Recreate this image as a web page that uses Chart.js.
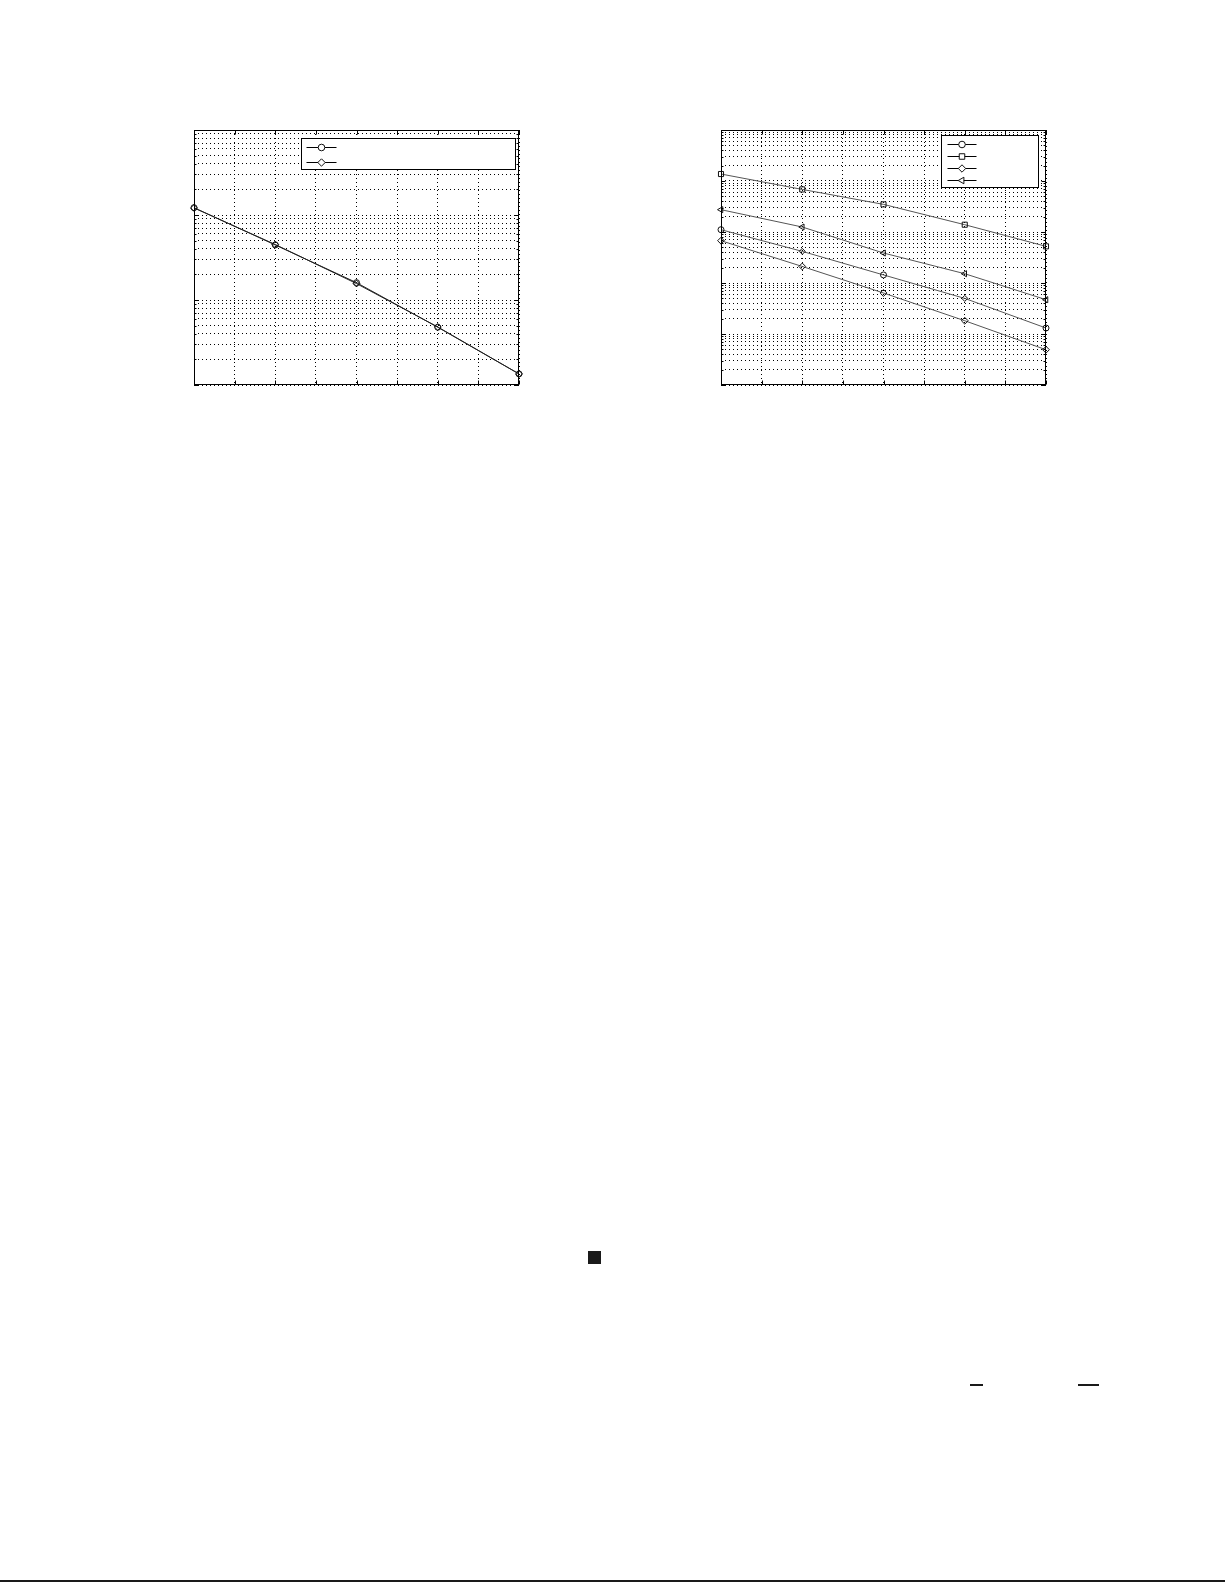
<!DOCTYPE html>
<html>
<head>
<meta charset="utf-8">
<script src="https://cdn.jsdelivr.net/npm/chart.js@4.4.1/dist/chart.umd.min.js"></script>
<style>
  html, body { margin: 0; padding: 0; background: #fff; }
  body { width: 1225px; height: 1585px; position: relative; overflow: hidden; }
  canvas { position: absolute; }
  #leftChart { left: 184px; top: 120px; }
  #rightChart { left: 711px; top: 120px; }
  .mark { position: absolute; background: #1a1a1a; }
</style>
</head>
<body>
<canvas id="leftChart" width="345" height="275"></canvas>
<canvas id="rightChart" width="345" height="275"></canvas>
<div class="mark" style="left:588px;top:1251px;width:13px;height:13px;"></div>
<div class="mark" style="left:970px;top:1384px;width:13px;height:2px;"></div>
<div class="mark" style="left:1078px;top:1384px;width:21px;height:2px;"></div>
<div class="mark" style="left:0;top:1580px;width:1225px;height:2px;"></div>
<script>
// x positions of the samples and of the vertical grid lines
const xValues = [1, 2, 3, 4, 5];
const xGrid = [1, 1.5, 2, 2.5, 3, 3.5, 4, 4.5, 5];

// left panel (log y, 1e-3 .. 1)
const leftDecades = [1e-3, 1e-2, 1e-1, 1];
const leftCircle = [0.122, 0.0444, 0.0160, 0.00478, 0.00135];
const leftDiamond = [0.121, 0.0450, 0.0156, 0.00482, 0.00135];

// right panel (log y, 1e-5 .. 1)
const rightDecades = [1e-5, 1e-4, 1e-3, 1e-2, 1e-1, 1];
const rightCircle = [0.0111, 0.00417, 0.00144, 0.000499, 0.000131];
const rightSquare = [0.137, 0.0684, 0.0348, 0.0139, 0.00523];
const rightDiamond = [0.00675, 0.00211, 0.000637, 0.000182, 0.0000492];
const rightTriangle = [0.0274, 0.01253, 0.00387, 0.00152, 0.000471];

const minorSteps = [1, 2, 3, 4, 5, 6, 7, 8, 9];

function logGrid(decades) {
  const out = [];
  decades.forEach((d, i) => {
    if (i === decades.length - 1) { out.push(d); return; }
    minorSteps.forEach(m => out.push(+(m * d).toPrecision(6)));
  });
  return out;
}

function pts(ys) { return xValues.map((x, i) => ({ x: x, y: ys[i] })); }

function drawMarker(ctx, style, x, y, r, rot) {
  if (Chart.helpers && Chart.helpers.drawPoint) {
    Chart.helpers.drawPoint(ctx, { pointStyle: style, rotation: rot || 0, radius: r, borderWidth: 1 }, x, y);
    return;
  }
  ctx.beginPath();
  ctx.arc(x, y, r, 0, Math.PI * 2);
  ctx.stroke();
}

// black frame + MATLAB-like inward ticks
const framePlugin = {
  id: 'frame',
  afterDraw(chart) {
    const { ctx, chartArea: a, scales } = chart;
    const L = Math.round(a.left) + 0.5, R = Math.round(a.right) - 0.5;
    const T = Math.round(a.top) + 0.5, B = Math.round(a.bottom) - 0.5;
    ctx.save();
    ctx.strokeStyle = '#000';
    ctx.lineWidth = 1;
    ctx.setLineDash([]);
    ctx.strokeRect(L, T, R - L, B - T);
    ctx.beginPath();
    scales.x.ticks.forEach(t => {
      const px = Math.round(scales.x.getPixelForValue(t.value)) + 0.5;
      ctx.moveTo(px, B); ctx.lineTo(px, B - 4);
      ctx.moveTo(px, T); ctx.lineTo(px, T + 4);
    });
    scales.y.ticks.forEach(t => {
      const lg = Math.log10(t.value);
      const len = Math.abs(lg - Math.round(lg)) < 1e-6 ? 4 : 2;
      const py = Math.round(scales.y.getPixelForValue(t.value)) + 0.5;
      ctx.moveTo(L, py); ctx.lineTo(L + len, py);
      ctx.moveTo(R, py); ctx.lineTo(R - len, py);
    });
    ctx.stroke();
    ctx.restore();
  }
};

// boxed legend with line + marker samples (label text is blank in the source)
const boxLegendPlugin = {
  id: 'boxLegend',
  afterDraw(chart, args, opts) {
    const { ctx, chartArea: a } = chart;
    const x0 = Math.round(a.left + opts.left) + 0.5;
    const x1 = Math.round(a.right - opts.right) + 0.5;
    const y0 = Math.round(a.top + opts.top) + 0.5;
    const y1 = Math.round(a.top + opts.bottom) + 0.5;
    ctx.save();
    ctx.setLineDash([]);
    ctx.fillStyle = '#fff';
    ctx.fillRect(x0, y0, x1 - x0, y1 - y0);
    ctx.strokeStyle = '#000';
    ctx.lineWidth = 1;
    ctx.strokeRect(x0, y0, x1 - x0, y1 - y0);
    chart.data.datasets.forEach((ds, i) => {
      const y = Math.round(y0 + opts.firstRow + i * opts.rowStep) + 0.5;
      ctx.strokeStyle = '#000';
      ctx.beginPath();
      ctx.moveTo(x0 + opts.lineStart, y);
      ctx.lineTo(x0 + opts.lineEnd, y);
      ctx.stroke();
      ctx.strokeStyle = ds.pointBorderColor;
      ctx.fillStyle = '#fff';
      const style = Array.isArray(ds.pointStyle) ? ds.pointStyle[0] : ds.pointStyle;
      drawMarker(ctx, style, x0 + (opts.lineStart + opts.lineEnd) / 2, y, ds.pointRadius + 0.3, ds.pointRotation);
    });
    ctx.restore();
  }
};

function makeChart(id, datasets, decades, legendOpts) {
  const yGrid = logGrid(decades);
  return new Chart(document.getElementById(id), {
    type: 'line',
    data: { datasets: datasets },
    plugins: [framePlugin, boxLegendPlugin],
    options: {
      responsive: false,
      animation: false,
      devicePixelRatio: 1,
      layout: { padding: 10 },
      elements: { line: { tension: 0 } },
      plugins: {
        legend: { display: false },
        tooltip: { enabled: false },
        boxLegend: legendOpts
      },
      scales: {
        x: {
          type: 'linear',
          min: xGrid[0],
          max: xGrid[xGrid.length - 1],
          afterBuildTicks: s => { s.ticks = xGrid.map(v => ({ value: v })); },
          ticks: { display: false },
          grid: { color: '#000', lineWidth: 1, drawTicks: false },
          border: { display: false, dash: [1, 3] }
        },
        y: {
          type: 'logarithmic',
          min: decades[0],
          max: decades[decades.length - 1],
          afterBuildTicks: s => { s.ticks = yGrid.map(v => ({ value: v, major: false })); },
          ticks: { display: false },
          grid: { color: '#000', lineWidth: 1, drawTicks: false },
          border: { display: false, dash: [1, 3] }
        }
      }
    }
  });
}

function series(label, ys, style, r, lineColor, extra) {
  return Object.assign({
    label: label,
    data: pts(ys),
    borderColor: lineColor,
    borderWidth: 1,
    pointStyle: style,
    pointRadius: r,
    pointBorderColor: '#111',
    pointBackgroundColor: 'rgba(0,0,0,0)',
    pointBorderWidth: 1,
    clip: false
  }, extra || {});
}

makeChart('leftChart', [
  series('', leftCircle, 'circle', 3, '#222'),
  series('', leftDiamond, 'rectRot', 3.4, '#222')
], leftDecades, {
  left: 107, right: 4, top: 8, bottom: 39,
  firstRow: 8, rowStep: 15.3, lineStart: 5, lineEnd: 35
});

makeChart('rightChart', [
  series('', rightCircle, ['circle', 'rectRot', 'circle', 'rectRot', 'circle'], 3, '#555'),
  series('', rightSquare, 'rect', 3.6, '#555'),
  series('', rightDiamond, 'rectRot', 3.4, '#555'),
  series('', rightTriangle, 'triangle', 3.5, '#555', { pointRotation: -90 })
], rightDecades, {
  left: 220, right: 8, top: 5, bottom: 57,
  firstRow: 8, rowStep: 12.1, lineStart: 6, lineEnd: 35
});
</script>
</body>
</html>
